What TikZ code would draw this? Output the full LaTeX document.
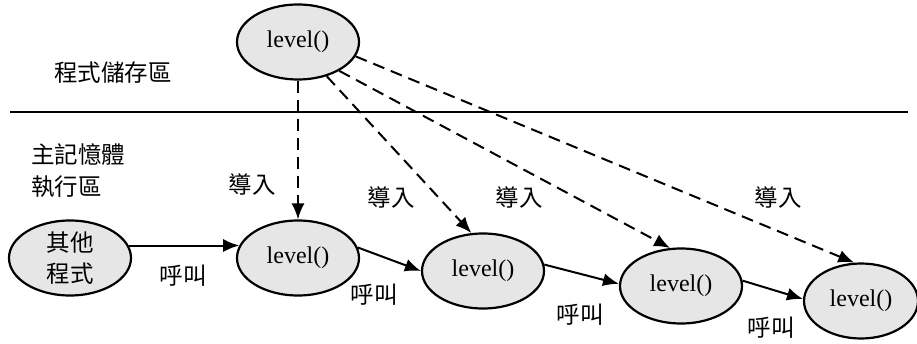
\documentclass[tikz,border=0pt]{standalone}
\usepackage{fontspec}
\setmainfont{Liberation Serif}
\newfontfamily\cjk{Noto Sans CJK TC}
\usetikzlibrary{shapes.geometric,arrows.meta}
\definecolor{nodegray}{HTML}{E6E6E6}
\tikzset{
  fn/.style={ellipse, draw=black, line width=2.2pt, fill=nodegray, minimum width=122pt, minimum height=75pt, inner sep=0pt, font=\fontsize{24}{26}\selectfont},
  lbl/.style={font=\cjk\fontsize{23.5}{26}\selectfont, inner sep=0pt},
  call/.style={line width=2pt, -{Latex[length=16pt,width=13pt]}},
  imp/.style={line width=2pt, dash pattern=on 12pt off 7pt, -{Latex[length=16pt,width=13pt]}}
}
\begin{document}
\begin{tikzpicture}[x=1pt,y=-1pt]
\useasboundingbox (0,0) rectangle (917,344);
% nodes
\node[fn] (top) at (298,42) {level()};
\node[fn, font=\cjk\fontsize{23.5}{31}\selectfont, align=center] (other) at (70,258) {其他\\程式};
\node[fn] (l1) at (298,258) {level()};
\node[fn] (l2) at (483,271) {level()};
\node[fn] (l3) at (681,286) {level()};
\node[fn, minimum width=114pt] (l4) at (861,301) {level()};
% divider
\coordinate (dl) at (10,112);
\coordinate (dr) at (908,112);
\draw[line width=2pt] (dl) -- (dr);
% labels
\node[lbl] (store) at (113,73) {程式儲存區};
\node[lbl, anchor=west] (mem1) at (31,155) {主記憶體};
\node[lbl, anchor=west] (mem2) at (31,187) {執行區};
\node[lbl] (i1) at (252,185) {導入};
\node[lbl] (i2) at (391,198) {導入};
\node[lbl] (i3) at (519,198) {導入};
\node[lbl] (i4) at (778,198) {導入};
\node[lbl] (c1) at (183,276) {呼叫};
\node[lbl] (c2) at (374,295) {呼叫};
\node[lbl] (c3) at (580,315) {呼叫};
\node[lbl] (c4) at (771,328) {呼叫};
% calls
\draw[call] (other.12) -- (l1.168);
\draw[call] (l1.10) -- (l2.180);
\draw[call] (l2.6) -- (l3.178);
\draw[call] (l3.5) -- (l4.178);
% imports
\draw[imp] (top.-90) -- (l1.90);
\draw[imp] (top.-50) -- (l2.107);
\draw[imp] (top.-35) -- (l3.106);
\draw[imp] (top.-14) -- (l4.100);
\end{tikzpicture}
\end{document}
